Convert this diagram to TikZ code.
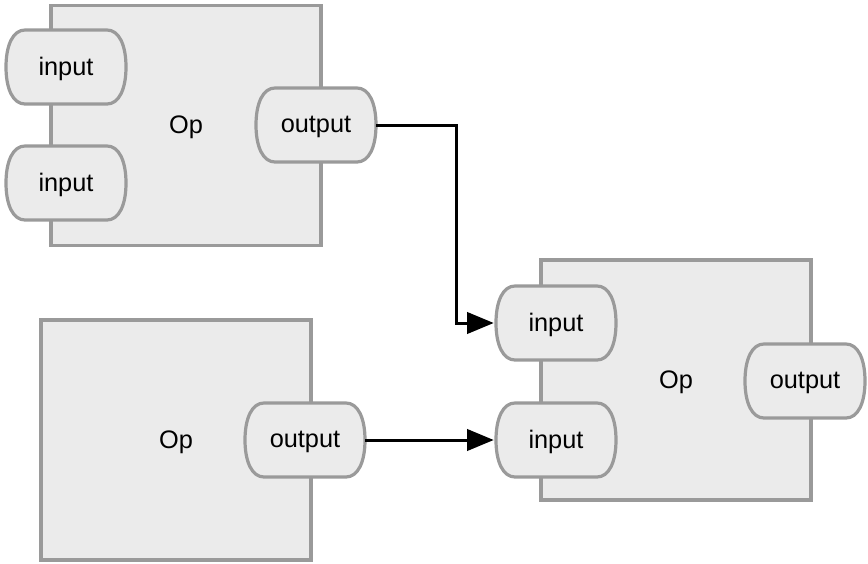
\documentclass[tikz,border=0pt]{standalone}
\usepackage{fontspec}
\setmainfont{Liberation Sans}
\usetikzlibrary{arrows.meta,calc}
\definecolor{boxfill}{HTML}{EBEBEB}
\definecolor{boxline}{HTML}{9A9A9A}
\tikzset{
  opbox/.style={draw=boxline, fill=boxfill, line width=2.4pt, minimum width=202.5pt, minimum height=180pt, inner sep=0pt},
  lbl/.style={font=\fontsize{19}{22}\selectfont, inner sep=0pt, yshift=-1.5pt},
  porttext/.style={minimum width=90pt, minimum height=55.5pt, inner sep=0pt},
  portline/.style={draw=boxline, fill=boxfill, line width=2.4pt},
  conn/.style={line width=2.25pt, -{Triangle[length=20pt,width=16pt]}, shorten >=1.5pt}
}
\newcommand{\portnode}[3]{%
  \node[porttext] (#1) at (#2) {};
  \filldraw[portline] ([shift={(-41,-37)}]#1.center) -- ++(82,0)
    .. controls +(12,0) and +(0,-22) .. ++(19,37)
    .. controls +(0,22) and +(12,0) .. ++(-19,37)
    -- ++(-82,0)
    .. controls +(-12,0) and +(0,22) .. ++(-19,-37)
    .. controls +(0,-22) and +(-12,0) .. ++(19,-37) -- cycle;
  \node[lbl] at (#1.center) {#3};
}
\begin{document}
\begin{tikzpicture}[x=0.75pt,y=-0.75pt]
\useasboundingbox (0,0) rectangle (868,564);
% boxes
\node[opbox] (op1) at (186,125.5) {};
\node[opbox] (op2) at (176,440) {};
\node[opbox] (op3) at (676,380) {};
\node[lbl] at (op1.center) {Op};
\node[lbl] at (op2.center) {Op};
\node[lbl] at (op3.center) {Op};
% ports
\portnode{i11}{66,67}{input}
\portnode{i12}{66,183}{input}
\portnode{o1}{316,125}{output}
\portnode{o2}{305,440}{output}
\portnode{i31}{556,323}{input}
\portnode{i32}{556,440}{input}
\portnode{o3}{805,381}{output}
% connectors
\coordinate (j) at (456,0);
\draw[conn] (o1.east) -| (j |- i31.west) -- (i31.west);
\draw[conn] (o2.east) -- (i32.west);
\end{tikzpicture}
\end{document}
